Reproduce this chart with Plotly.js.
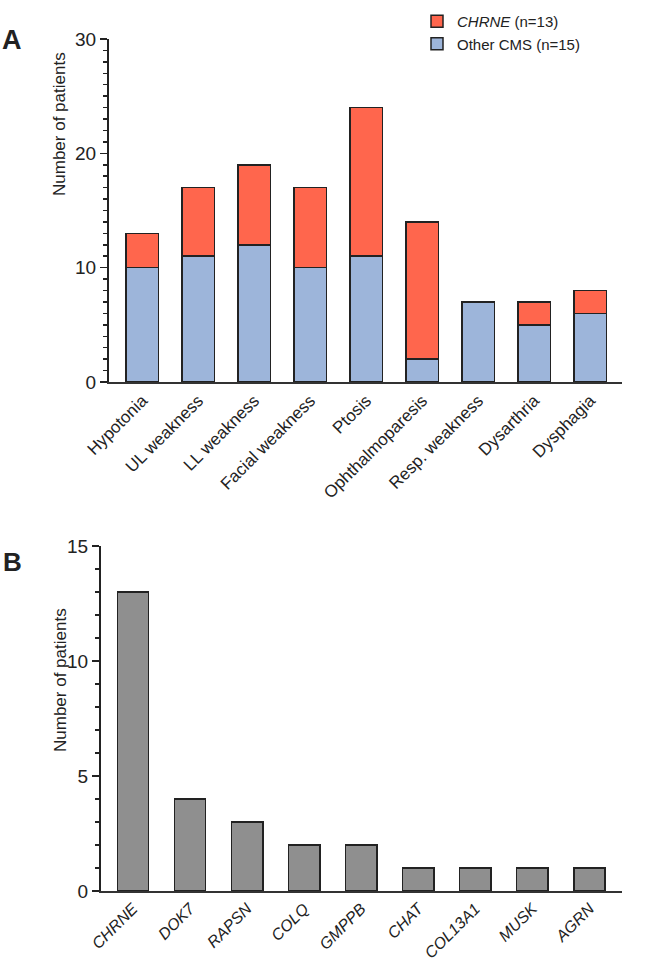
<!DOCTYPE html>
<html><head><meta charset="utf-8">
<script src="https://cdn.plot.ly/plotly-3.0.1.min.js"></script>
<style>body{margin:0;background:#fff}</style></head>
<body><div id="chart" style="width:646px;height:969px"></div>
<script>
const symptoms = ['Hypotonia','UL weakness','LL weakness','Facial weakness','Ptosis','Ophthalmoparesis','Resp. weakness','Dysarthria','Dysphagia'];
const otherCMS = [10, 11, 12, 10, 11, 2, 7, 5, 6];
const chrne = [3, 6, 7, 7, 13, 12, 0, 2, 2];
const genes = ['CHRNE','DOK7','RAPSN','COLQ','GMPPB','CHAT','COL13A1','MUSK','AGRN'];
const geneCounts = [13, 4, 3, 2, 2, 1, 1, 1, 1];

const W = 646, H = 969;
const px = v => v / W;
const py = v => 1 - v / H;
const FONT = 'Liberation Sans, Arial, sans-serif';
const dark = '#222222';
const outline = {color: dark, width: 1.5};

const traces = [
  {type:'bar', x: symptoms, y: otherCMS, name:'Other CMS (n=15)', xaxis:'x', yaxis:'y',
   marker:{color:'#9DB5DA', line: outline}, width:0.58},
  {type:'bar', x: symptoms, y: chrne, name:'<i>CHRNE</i> (n=13)', xaxis:'x', yaxis:'y',
   marker:{color:'#FF664D', line: outline}, width:0.58},
  {type:'bar', x: genes, y: geneCounts, name:'Genes', xaxis:'x2', yaxis:'y2', showlegend:false,
   marker:{color:'#8F8F8F', line: outline}, width:0.55}
];

const yCommon = {
  showline:true, linecolor:dark, linewidth:2, showgrid:false, zeroline:false,
  ticks:'outside', ticklen:7, tickwidth:1.5, tickcolor:dark,
  tickfont:{family:FONT, size:19, color:dark},
  minor:{ticks:'outside', ticklen:4, tickwidth:1.5, tickcolor:dark, dtick:1, showgrid:false}
};
const xCommon = {
  showline:true, linecolor:'#333', linewidth:2, showgrid:false, zeroline:false,
  ticks:'', tickangle:-45, type:'category'
};

const layout = {
  width:W, height:H, margin:{l:0,r:0,t:0,b:0},
  paper_bgcolor:'#fff', plot_bgcolor:'#fff',
  barmode:'stack', showlegend:true,
  font:{family:FONT, color:dark},
  legend:{x:px(417), y:py(5), xanchor:'left', yanchor:'top', traceorder:'reversed',
          font:{family:FONT, size:15, color:dark}, bgcolor:'rgba(0,0,0,0)'},
  xaxis: Object.assign({}, xCommon, {domain:[px(109), px(622)], range:[-0.595, 8.566], anchor:'y',
          tickfont:{family:FONT, size:17, color:dark}}),
  yaxis: Object.assign({}, yCommon, {domain:[py(382), py(39)], range:[0,30], dtick:10, anchor:'x'}),
  xaxis2: Object.assign({}, xCommon, {domain:[px(101), px(622)], range:[-0.56, 8.57], anchor:'y2',
          tickfont:{family:FONT, size:16, color:dark, style:'italic'}}),
  yaxis2: Object.assign({}, yCommon, {domain:[py(891), py(546)], range:[0,15], dtick:5, anchor:'x2'}),
  annotations:[
    {text:'<b>A</b>', xref:'paper', yref:'paper', x:px(12), y:py(40), xanchor:'center', yanchor:'middle',
     showarrow:false, font:{family:FONT, size:27, color:dark}},
    {text:'<b>B</b>', xref:'paper', yref:'paper', x:px(12), y:py(562), xanchor:'center', yanchor:'middle',
     showarrow:false, font:{family:FONT, size:26, color:dark}},
    {text:'Number of patients', xref:'paper', yref:'paper', x:px(60), y:py(124), xanchor:'center', yanchor:'middle',
     textangle:-90, showarrow:false, font:{family:FONT, size:17, color:dark}},
    {text:'Number of patients', xref:'paper', yref:'paper', x:px(60), y:py(680), xanchor:'center', yanchor:'middle',
     textangle:-90, showarrow:false, font:{family:FONT, size:17, color:dark}}
  ]
};

Plotly.newPlot('chart', traces, layout, {displayModeBar:false, staticPlot:true});
</script></body></html>
